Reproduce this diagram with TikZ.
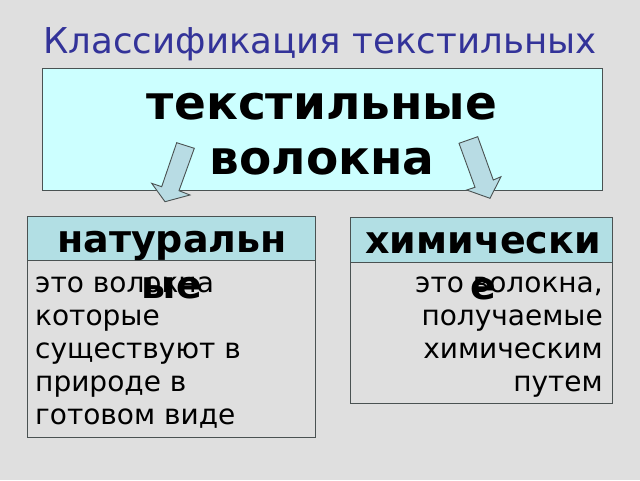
\documentclass[tikz,border=0pt]{standalone}
\usepackage{fontspec}
\setmainfont{DejaVu Sans}
\definecolor{bggray}{HTML}{DFDFDF}
\definecolor{titleblue}{HTML}{333399}
\definecolor{topfill}{HTML}{CCFFFF}
\definecolor{headfill}{HTML}{B2DFE4}
\definecolor{edge}{HTML}{4A5252}
\definecolor{arrowfill}{HTML}{B8DCE4}
\tikzset{
  boxframe/.style={draw=edge, line width=0.9pt},
  bodytext/.style={inner sep=0pt, font=\fontsize{28}{33}\selectfont},
  headtext/.style={inner sep=0pt, align=center, font=\fontsize{38}{46}\selectfont\bfseries},
  bigtext/.style={inner sep=0pt, font=\fontsize{47}{55}\selectfont\bfseries},
  blockarrow/.style={draw=edge, fill=arrowfill, line width=0.9pt, line join=miter}
}
\begin{document}
\begin{tikzpicture}[x=1pt,y=-1pt]
\useasboundingbox (0,0) rectangle (640,480);
\fill[bggray] (0,0) rectangle (640,480);
% title
\node[inner sep=0pt, anchor=base, text=titleblue, font=\fontsize{35.6}{40}\selectfont] (title) at (320,53) {Классификация текстильных};
% top box
\node[boxframe, fill=topfill, anchor=north west, minimum width=560pt, minimum height=122pt, inner sep=0pt] (top) at (42,68) {};
\node[bigtext, anchor=base] (topl1) at (322,119) {текстильные};
\node[bigtext, anchor=base] (topl2) at (322,174) {волокна};
% arrows
\filldraw[blockarrow] (176.7,142.7) -- (194.3,148.3) -- (179,190.7) -- (190,195) -- (165,201.7) -- (151.7,183.3) -- (161.7,186.7) -- cycle;
\filldraw[blockarrow] (459,143.3) -- (477.7,136.7) -- (493.3,180) -- (501,176.7) -- (490,198.3) -- (466.7,190) -- (475,187.3) -- cycle;
% left box
\node[boxframe, fill=none, anchor=north west, minimum width=288pt, minimum height=221pt, inner sep=0pt] (leftbox) at (27,216) {};
\filldraw[boxframe, fill=headfill] (leftbox.north west) rectangle (315,260);
\node[bodytext, anchor=base west, align=left] (lefttext) at (35,424) {это волокна\\которые\\существуют в\\природе в\\готовом виде};
\node[headtext, anchor=base] (lefthead) at (172,298) {натуральн\\ые};
% right box
\node[boxframe, fill=none, anchor=north west, minimum width=262pt, minimum height=186pt, inner sep=0pt] (rightbox) at (350,217) {};
\filldraw[boxframe, fill=headfill] (rightbox.north west) rectangle (612,262);
\node[bodytext, anchor=base east, align=right] (righttext) at (603,391) {это волокна,\\получаемые\\химическим\\путем};
\node[headtext, anchor=base] (righthead) at (483,299) {химически\\е};
\end{tikzpicture}
\end{document}
